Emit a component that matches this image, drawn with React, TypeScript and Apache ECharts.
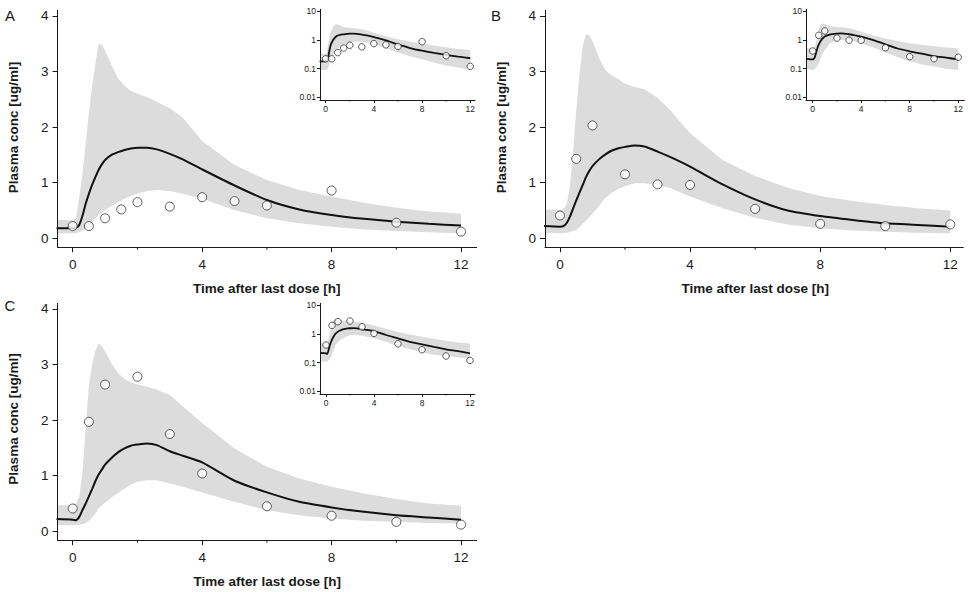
import React, { useEffect, useRef } from "react";
import * as echarts from "echarts";

// ---------- DATA ----------
const T = [-0.5, 0, 0.1, 0.2, 0.3, 0.4, 0.5, 0.6, 0.7, 0.8, 0.9, 1.0, 1.2, 1.4, 1.6, 1.8, 2.0, 2.3, 2.6, 3.0, 3.4, 4.0, 5.0, 6.0, 7.0, 8.0, 9.0, 10.0, 11.0, 12.0];

const upperA = [0.33, 0.33, 0.36, 0.72, 1.16, 1.69, 2.26, 2.73, 3.15, 3.5, 3.48, 3.38, 3.12, 2.88, 2.74, 2.65, 2.6, 2.54, 2.45, 2.34, 2.17, 1.75, 1.32, 1.05, 0.87, 0.75, 0.64, 0.55, 0.48, 0.44];
const lowerA = [0.09, 0.09, 0.09, 0.11, 0.14, 0.19, 0.24, 0.29, 0.35, 0.42, 0.47, 0.51, 0.58, 0.65, 0.71, 0.76, 0.8, 0.85, 0.87, 0.85, 0.8, 0.71, 0.51, 0.36, 0.27, 0.21, 0.16, 0.13, 0.11, 0.09];
const medianA = [0.18, 0.18, 0.19, 0.24, 0.4, 0.62, 0.8, 0.96, 1.1, 1.23, 1.33, 1.41, 1.5, 1.55, 1.59, 1.615, 1.63, 1.63, 1.6, 1.52, 1.42, 1.24, 0.95, 0.69, 0.52, 0.42, 0.35, 0.3, 0.26, 0.23];

const upperB = [0.52, 0.51, 0.52, 0.6, 0.9, 1.52, 2.3, 2.95, 3.47, 3.67, 3.66, 3.55, 3.25, 3.02, 2.93, 2.86, 2.78, 2.72, 2.68, 2.53, 2.3, 1.89, 1.41, 1.12, 0.91, 0.76, 0.67, 0.6, 0.54, 0.5];
const lowerB = [0.1, 0.09, 0.09, 0.1, 0.11, 0.13, 0.15, 0.2, 0.26, 0.32, 0.38, 0.44, 0.58, 0.73, 0.82, 0.89, 0.94, 0.99, 0.99, 0.96, 0.9, 0.75, 0.54, 0.37, 0.25, 0.18, 0.14, 0.12, 0.1, 0.09];
const medianB = [0.22, 0.21, 0.22, 0.27, 0.38, 0.53, 0.68, 0.82, 0.96, 1.1, 1.21, 1.3, 1.42, 1.51, 1.58, 1.62, 1.645, 1.67, 1.65, 1.56, 1.46, 1.29, 0.97, 0.7, 0.5, 0.4, 0.33, 0.27, 0.24, 0.21];

const upperC = [0.47, 0.47, 0.5, 0.62, 1.05, 1.85, 2.62, 3.0, 3.25, 3.38, 3.33, 3.24, 3.02, 2.85, 2.74, 2.68, 2.64, 2.6, 2.55, 2.45, 2.25, 1.95, 1.49, 1.16, 0.95, 0.8, 0.68, 0.58, 0.5, 0.46];
const lowerC = [0.11, 0.11, 0.11, 0.12, 0.13, 0.15, 0.19, 0.25, 0.32, 0.41, 0.47, 0.52, 0.61, 0.69, 0.77, 0.84, 0.89, 0.92, 0.92, 0.86, 0.8, 0.7, 0.53, 0.38, 0.29, 0.23, 0.19, 0.17, 0.15, 0.14];
const medianC = [0.22, 0.21, 0.2, 0.26, 0.38, 0.5, 0.63, 0.76, 0.9, 1.02, 1.11, 1.2, 1.32, 1.42, 1.49, 1.54, 1.56, 1.58, 1.55, 1.44, 1.36, 1.24, 0.91, 0.7, 0.53, 0.43, 0.35, 0.29, 0.25, 0.21];

const obsTimeA = [0, 0.5, 1, 1.5, 2, 3, 4, 5, 6, 8, 10, 12];
const obsA = [0.22, 0.22, 0.36, 0.52, 0.65, 0.57, 0.74, 0.67, 0.59, 0.86, 0.28, 0.12];
const obsTimeBC = [0, 0.5, 1, 2, 3, 4, 6, 8, 10, 12];
const obsB = [0.41, 1.43, 2.03, 1.15, 0.97, 0.96, 0.53, 0.26, 0.22, 0.25];
const obsC = [0.41, 1.97, 2.64, 2.78, 1.75, 1.04, 0.45, 0.28, 0.17, 0.12];

const concTicks = [0, 1, 2, 3, 4];
const timeTicks = [0, 4, 8, 12];
const timeMinorTicks = [2, 6, 10];
const logTicks = [0.01, 0.1, 1, 10];

const panelLetters = ["A", "B", "C"];
const xTitle = "Time after last dose [h]";
const yTitle = "Plasma conc [ug/ml]";

// ---------- LAYOUT ----------
const FONT = "'Liberation Sans', Arial, Helvetica, sans-serif";
const INK = "#1a1a1a";
const BAND = "#dcdcdc";

const layouts = [
  {
    main: { left: 57.5, top: 10.4, width: 419.1, height: 236.8, xmin: -0.47, xmax: 12.48 },
    inset: { left: 320, top: 9.3, width: 155.1, height: 90.7, xmin: -0.47, xmax: 12.4 },
    letter: [10, 15], xt: [266.7, 288.3], yt: [13, 127.5],
  },
  {
    main: { left: 545.0, top: 10.4, width: 418.3, height: 236.8, xmin: -0.46, xmax: 12.4 },
    inset: { left: 806, top: 9.3, width: 158.3, height: 90.7, xmin: -0.55, xmax: 12.5 },
    letter: [496, 15], xt: [755.3, 288.3], yt: [501.5, 127.5],
  },
  {
    main: { left: 57.5, top: 303.4, width: 419.1, height: 236.8, xmin: -0.47, xmax: 12.48 },
    inset: { left: 320, top: 303.3, width: 154.8, height: 90.7, xmin: -0.5, xmax: 12.4 },
    letter: [10, 305], xt: [267.3, 581], yt: [13, 419],
  },
];

const panelData = [
  { upper: upperA, lower: lowerA, median: medianA, obsT: obsTimeA, obs: obsA },
  { upper: upperB, lower: lowerB, median: medianB, obsT: obsTimeBC, obs: obsB },
  { upper: upperC, lower: lowerC, median: medianC, obsT: obsTimeBC, obs: obsC },
];

const LOG_MIN = Math.pow(10, -2.087);
const LOG_MAX = Math.pow(10, 1.059);

function fmtLog(v: number) {
  if (v >= 1) return String(Math.round(v));
  return String(Number(v.toPrecision(1)));
}

function bandSeries(idx: number, lower: number[], upper: number[]) {
  return {
    type: "custom",
    xAxisIndex: idx,
    yAxisIndex: idx,
    silent: true,
    z: 1,
    clip: true,
    data: T.map((t, k) => [t, lower[k], upper[k]]),
    encode: { x: 0, y: [1, 2] },
    renderItem: (params: any, api: any) => {
      if (params.dataIndex !== 0) return null;
      const pts: number[][] = [];
      for (let k = 0; k < T.length; k++) pts.push(api.coord([T[k], upper[k]]));
      for (let k = T.length - 1; k >= 0; k--) pts.push(api.coord([T[k], lower[k]]));
      const cs = params.coordSys;
      return {
        type: "polygon",
        shape: { points: pts },
        style: { fill: BAND, stroke: "none" },
        clipPath: { type: "rect", shape: { x: cs.x, y: cs.y, width: cs.width, height: cs.height } },
      };
    },
  };
}

function minorTickSeries(idx: number, len: number) {
  return {
    type: "custom",
    xAxisIndex: idx,
    yAxisIndex: idx,
    silent: true,
    z: 6,
    clip: false,
    data: timeMinorTicks.map((t) => [t, 1]),
    encode: { x: 0, y: 1 },
    renderItem: (params: any, api: any) => {
      const cs = params.coordSys;
      const px = api.coord([api.value(0), 1])[0];
      const y0 = cs.y + cs.height;
      return {
        type: "line",
        shape: { x1: px, y1: y0, x2: px, y2: y0 + len },
        style: { stroke: INK, lineWidth: 1 },
      };
    },
  };
}

function buildOption() {
  const grid: any[] = [];
  const xAxis: any[] = [];
  const yAxis: any[] = [];
  const series: any[] = [];
  const graphic: any[] = [];

  layouts.forEach((L, p) => {
    const d = panelData[p];
    const gi = grid.length;
    grid.push({ left: L.main.left, top: L.main.top, width: L.main.width, height: L.main.height, containLabel: false });
    xAxis.push({
      type: "value", gridIndex: gi, min: L.main.xmin, max: L.main.xmax, z: 5,
      axisLine: { show: true, onZero: false, lineStyle: { color: INK, width: 1 } },
      axisTick: { show: true, customValues: timeTicks, length: 5, lineStyle: { color: INK } },
      axisLabel: { show: true, customValues: timeTicks, fontSize: 13.5, color: INK, fontFamily: FONT, margin: 10 },
      splitLine: { show: false },
    });
    yAxis.push({
      type: "value", gridIndex: gi, min: -0.16, max: 4.1, z: 5,
      axisLine: { show: true, onZero: false, lineStyle: { color: INK, width: 1 } },
      axisTick: { show: true, customValues: concTicks, length: 5, lineStyle: { color: INK } },
      axisLabel: { show: true, customValues: concTicks, fontSize: 13.5, color: INK, fontFamily: FONT, margin: 9 },
      splitLine: { show: false },
    });
    const ii = grid.length;
    grid.push({ left: L.inset.left, top: L.inset.top, width: L.inset.width, height: L.inset.height, containLabel: false });
    xAxis.push({
      type: "value", gridIndex: ii, min: L.inset.xmin, max: L.inset.xmax, z: 5,
      axisLine: { show: true, onZero: false, lineStyle: { color: INK, width: 1 } },
      axisTick: { show: true, customValues: timeTicks, length: 3, lineStyle: { color: INK } },
      axisLabel: { show: true, customValues: timeTicks, fontSize: 8.5, color: INK, fontFamily: FONT, margin: 4 },
      splitLine: { show: false },
    });
    yAxis.push({
      type: "log", logBase: 10, gridIndex: ii, min: LOG_MIN, max: LOG_MAX, z: 5,
      axisLine: { show: true, onZero: false, lineStyle: { color: INK, width: 1 } },
      axisTick: { show: true, customValues: logTicks, length: 3, lineStyle: { color: INK } },
      axisLabel: { show: true, customValues: logTicks, fontSize: 8.5, color: INK, fontFamily: FONT, margin: 4, formatter: (v: number) => fmtLog(v) },
      splitLine: { show: false },
      minorTick: { show: false },
    });

    [
      { idx: gi, sym: 9, lw: 2, minor: 2.5 },
      { idx: ii, sym: 6.5, lw: 1.8, minor: 1.5 },
    ].forEach((g) => {
      series.push(bandSeries(g.idx, d.lower, d.upper));
      series.push({
        type: "line", xAxisIndex: g.idx, yAxisIndex: g.idx, symbol: "none", smooth: 0.2, silent: true,
        lineStyle: { color: "#111", width: g.lw },
        data: T.map((t, k) => [t, d.median[k]]), z: 3,
      });
      series.push({
        type: "scatter", xAxisIndex: g.idx, yAxisIndex: g.idx, symbol: "circle", symbolSize: g.sym, silent: true,
        itemStyle: { color: "#ffffff", borderColor: "#333", borderWidth: 1 },
        data: d.obsT.map((t, k) => [t, d.obs[k]]), z: 4,
      });
      series.push(minorTickSeries(g.idx, g.minor));
    });

    graphic.push({
      type: "text", x: L.letter[0], y: L.letter[1],
      style: { text: panelLetters[p], fontSize: 15, fontFamily: FONT, fill: INK, align: "center", verticalAlign: "middle" },
    });
    graphic.push({
      type: "text", x: L.xt[0], y: L.xt[1],
      style: { text: xTitle, fontSize: 13.5, fontWeight: "bold", fontFamily: FONT, fill: INK, align: "center", verticalAlign: "middle" },
    });
    graphic.push({
      type: "text", x: L.yt[0], y: L.yt[1], rotation: Math.PI / 2,
      style: { text: yTitle, fontSize: 13.5, fontWeight: "bold", fontFamily: FONT, fill: INK, align: "center", verticalAlign: "middle" },
    });
  });

  return {
    animation: false,
    backgroundColor: "#ffffff",
    grid, xAxis, yAxis, series, graphic,
  };
}

export default function App() {
  const ref = useRef<HTMLDivElement | null>(null);
  useEffect(() => {
    if (!ref.current) return;
    const chart = echarts.init(ref.current, null, { renderer: "svg" });
    chart.setOption(buildOption() as any);
    return () => chart.dispose();
  }, []);
  return (
    <div
      ref={ref}
      style={{ position: "absolute", left: 0, top: 0, width: 970, height: 592, background: "#fff" }}
    />
  );
}
